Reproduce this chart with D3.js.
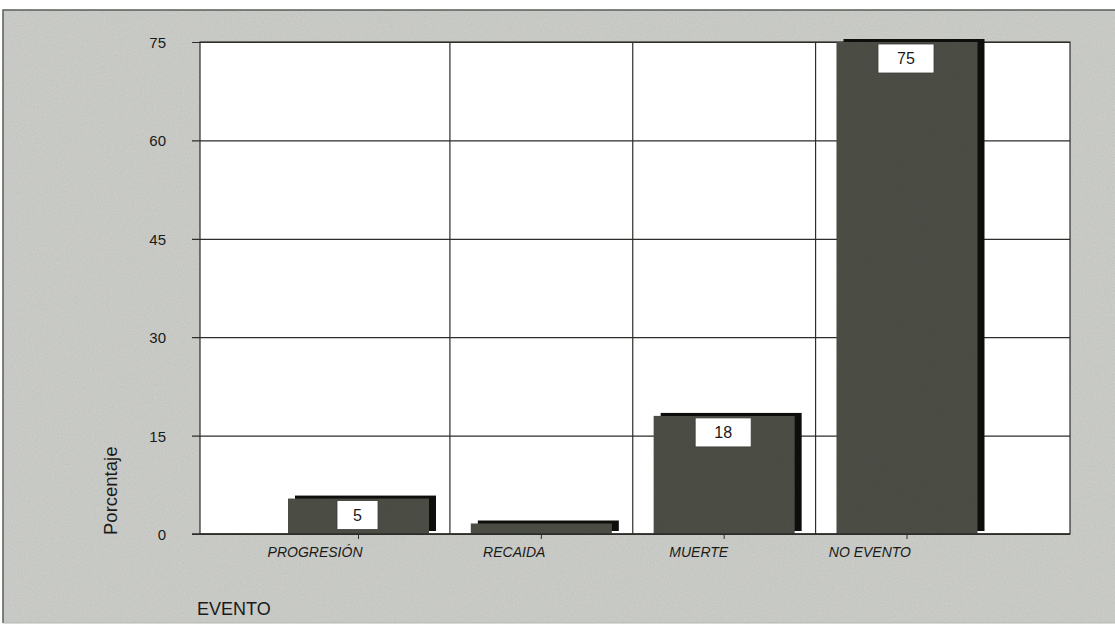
<!DOCTYPE html>
<html>
<head>
<meta charset="utf-8">
<script src="https://cdn.jsdelivr.net/npm/d3@7"></script>
<style>
  body { margin: 0; background: #fff; }
  svg { display: block; }
</style>
</head>
<body>
<div id="chart"></div>
<script>
'use strict';

//data
var categories = ['PROGRESIÓN', 'RECAIDA', 'MUERTE', 'NO EVENTO'];
var values     = [5.4, 1.6, 18, 75];
var labels     = ['5', '', '18', '75'];
var yTicks     = [0, 15, 30, 45, 60, 75];

//configuration variables
var config = {};
config.width      = 1115;
config.height     = 629;
config.plotLeft   = 200;
config.plotRight  = 1070;
config.plotTop    = 42;
config.plotBottom = 534;
config.barWidth   = 141;
config.shadowDx   = 7;
config.shadowDy   = -3;
config.font       = '"Liberation Sans", Arial, sans-serif';

var svg = d3.select('#chart')
    .append('svg')
    .attr('width', config.width)
    .attr('height', config.height);

//light noise to look a bit like the scanned original
var defs = svg.append('defs');
var grain = defs.append('filter').attr('id', 'grain');
grain.append('feTurbulence')
    .attr('type', 'fractalNoise')
    .attr('baseFrequency', 0.9)
    .attr('numOctaves', 2)
    .attr('result', 'noise');
grain.append('feColorMatrix')
    .attr('in', 'noise')
    .attr('type', 'matrix')
    .attr('values', '0 0 0 0 0  0 0 0 0 0  0 0 0 0 0  0 0 0 0.18 0')
    .attr('result', 'dots');
grain.append('feComposite')
    .attr('in', 'dots')
    .attr('in2', 'SourceGraphic')
    .attr('operator', 'in')
    .attr('result', 'mask');
grain.append('feMerge').call(function(m){
    m.append('feMergeNode').attr('in', 'SourceGraphic');
    m.append('feMergeNode').attr('in', 'mask');
});

//frame background
svg.append('rect')
    .attr('x', 3).attr('y', 10)
    .attr('width', config.width).attr('height', 613)
    .attr('fill', '#d0d2ce')
    .attr('filter', 'url(#grain)');
svg.append('path')
    .attr('d', 'M3,623V10H1115')
    .attr('fill', 'none')
    .attr('stroke', '#5a5e58')
    .attr('stroke-width', 1.5);
svg.append('line')
    .attr('x1', 3).attr('x2', config.width)
    .attr('y1', 623).attr('y2', 623)
    .attr('stroke', '#b4b7b2');

//scales
var x = d3.scalePoint()
    .domain(categories)
    .range([358.5, 907]);
var step = x.step();

var y = d3.scaleLinear()
    .domain([0, 75])
    .range([config.plotBottom, config.plotTop]);

//plot area
svg.append('rect')
    .attr('x', config.plotLeft).attr('y', config.plotTop)
    .attr('width', config.plotRight - config.plotLeft)
    .attr('height', config.plotBottom - config.plotTop)
    .attr('fill', '#fff');

//horizontal grid + y axis
var yAxis = d3.axisLeft(y)
    .tickValues(yTicks)
    .tickSize(-(config.plotRight - config.plotLeft))
    .tickPadding(0)
    .tickFormat(d3.format('d'));

var gy = svg.append('g')
    .attr('transform', 'translate(' + config.plotLeft + ',0)')
    .call(yAxis);
gy.select('.domain').remove();
gy.selectAll('.tick line')
    .attr('x1', -8)
    .attr('stroke', '#2c2e2a')
    .attr('stroke-width', 1.2);
gy.selectAll('.tick text')
    .attr('x', -34)
    .attr('dy', '0.36em')
    .attr('fill', '#1a1a18')
    .style('font-family', config.font)
    .style('font-size', '15px');

//vertical grid lines between categories
svg.append('g')
    .selectAll('line')
    .data(categories.slice(0, -1))
    .enter()
        .append('line')
        .attr('x1', function(d){ return x(d) + step / 2; })
        .attr('x2', function(d){ return x(d) + step / 2; })
        .attr('y1', config.plotTop)
        .attr('y2', config.plotBottom)
        .attr('stroke', '#2c2e2a')
        .attr('stroke-width', 1.2);

//plot border
svg.append('rect')
    .attr('x', config.plotLeft).attr('y', config.plotTop)
    .attr('width', config.plotRight - config.plotLeft)
    .attr('height', config.plotBottom - config.plotTop)
    .attr('fill', 'none')
    .attr('stroke', '#2c2e2a')
    .attr('stroke-width', 1.2);

//bars: shadow first, then face
var bars = svg.append('g')
    .selectAll('g')
    .data(categories)
    .enter()
        .append('g');

bars.append('rect')
    .attr('x', function(d){ return x(d) - config.barWidth / 2 + config.shadowDx; })
    .attr('y', function(d, i){ return y(values[i]) + config.shadowDy; })
    .attr('width', config.barWidth)
    .attr('height', function(d, i){ return config.plotBottom - y(values[i]); })
    .attr('fill', '#0e0e0c');

bars.append('rect')
    .attr('x', function(d){ return x(d) - config.barWidth / 2; })
    .attr('y', function(d, i){ return y(values[i]); })
    .attr('width', config.barWidth)
    .attr('height', function(d, i){ return config.plotBottom - y(values[i]); })
    .attr('fill', '#505148')
    .attr('filter', 'url(#grain)');

//redraw the baseline over the bars
svg.append('line')
    .attr('x1', config.plotLeft - 8).attr('x2', config.plotRight)
    .attr('y1', config.plotBottom).attr('y2', config.plotBottom)
    .attr('stroke', '#2c2e2a')
    .attr('stroke-width', 1.5);

//value boxes
function boxWidth(d){ return 26 + 15 * labels[categories.indexOf(d)].length; }

var boxes = bars.filter(function(d, i){ return labels[i] !== ''; });
boxes.append('rect')
    .attr('x', function(d){ return x(d) - 1 - boxWidth(d) / 2; })
    .attr('y', function(d){ return y(values[categories.indexOf(d)]) + 2; })
    .attr('width', boxWidth)
    .attr('height', 29)
    .attr('fill', '#fff')
    .attr('stroke', '#3a3a36')
    .attr('stroke-width', 0.8);
boxes.append('text')
    .attr('x', function(d){ return x(d) - 1; })
    .attr('y', function(d){ return y(values[categories.indexOf(d)]) + 22; })
    .attr('text-anchor', 'middle')
    .attr('fill', '#1a1a18')
    .style('font-family', config.font)
    .style('font-size', '16px')
    .text(function(d){ return labels[categories.indexOf(d)]; });

//x axis ticks + labels
var gx = svg.append('g')
    .selectAll('g')
    .data(categories)
    .enter()
        .append('g')
        .attr('transform', function(d){ return 'translate(' + x(d) + ',' + config.plotBottom + ')'; });
gx.append('line')
    .attr('y1', 0).attr('y2', 5)
    .attr('stroke', '#2c2e2a');
gx.append('text')
    .attr('x', 4)
    .attr('y', 23)
    .attr('text-anchor', 'end')
    .attr('fill', '#1a1a18')
    .style('font-family', config.font)
    .style('font-style', 'italic')
    .style('font-size', '14px')
    .text(function(d){ return d; });

//axis titles
svg.append('text')
    .attr('transform', 'translate(117,535) rotate(-90)')
    .attr('text-anchor', 'start')
    .attr('fill', '#1a1a18')
    .style('font-family', config.font)
    .style('font-size', '18.5px')
    .text('Porcentaje');

svg.append('text')
    .attr('x', 197)
    .attr('y', 615)
    .attr('fill', '#1a1a18')
    .style('font-family', config.font)
    .style('font-size', '18px')
    .text('EVENTO');
</script>
</body>
</html>
